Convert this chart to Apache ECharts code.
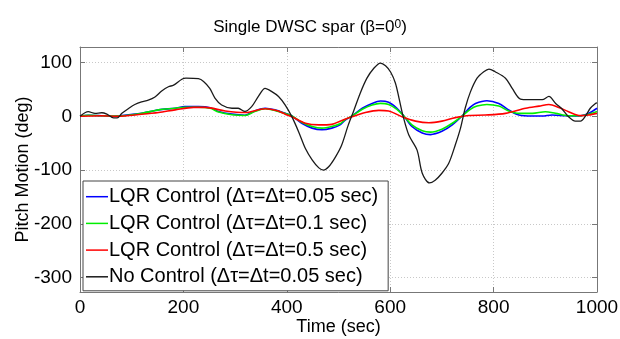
<!DOCTYPE html>
<html>
<head>
<meta charset="utf-8">
<script src="https://cdn.jsdelivr.net/npm/echarts@6/dist/echarts.min.js"></script>
<style>html,body{margin:0;padding:0;background:#fff}#c{width:620px;height:339px}</style>
</head>
<body>
<div id="c"></div>
<script>
var seriesNames = [
  'LQR Control (\u0394\u03c4=\u0394t=0.05 sec)',
  'LQR Control (\u0394\u03c4=\u0394t=0.1 sec)',
  'LQR Control (\u0394\u03c4=\u0394t=0.5 sec)',
  'No Control (\u0394\u03c4=\u0394t=0.05 sec)'
];
var xTicks = [0, 200, 400, 600, 800, 1000];
var yTicks = [-300, -200, -100, 0, 100];

var blueT = [0,16,42,60,72,119,152,184,203,229,252,268,294,319,338,358,377,397,410,429,449,468,487,503,513,526,546,565,581,597,613,626,642,662,678,700,720,739,755,765,787,810,829,849,875,894,913,939,965,984,1000];
var blueV = [0,2,1,0,0.5,5.5,12,15,18,18,16,9,4,2,10,15,12,5.5,0.5,-13,-22,-25,-22,-16,-7,0.5,15,24,28.5,26,15,1,-19,-31,-34,-28,-16,0.5,17,24,29,24,12,2.4,0.5,0.5,2.4,1,0.5,5.5,15];

var greenT = [0,16,42,72,119,152,184,203,229,252,268,294,319,338,358,377,397,410,429,449,468,487,503,513,526,546,565,581,597,613,626,642,662,678,700,720,739,755,768,787,810,829,849,875,900,920,945,965,984,1000];
var greenV = [0,2,1,0.5,5.5,12,15,17,17,15,8,3,1.5,9,14,11,5,0.5,-11,-19,-22,-19,-14,-6,0.5,13,21,24,22,13,1,-16,-27,-29.5,-24,-13,0.5,13,19,22,19,10,5.5,5.5,8.6,5.5,1,1,4,9];

var redT = [0,40,72,119,152,184,220,242,281,319,358,380,397,410,436,462,487,503,526,552,578,597,623,649,675,700,726,752,784,823,862,888,907,926,945,968,984,1000];
var redV = [0,1,0,3.7,7,12,16.6,16.6,10,7,14,11,4,-1,-13,-16,-15,-9,-1,7,11,10,-1,-9,-12,-9,-2.5,1.5,2.4,5.5,15,19,22,16.6,8.6,1.2,2.4,5.5];

var blackT = [0,16,29,42,52,65,72,81,94,106,119,132,145,158,171,181,197,205,229,239,251,261,274,294,306,319,332,345,358,371,384,397,410,423,436,449,462,471,481,494,506,519,529,542,555,568,581,591,601,610,617,625,636,652,662,676,687,700,713,726,736,745,755,768,781,791,803,823,836,852,868,894,907,920,932,945,958,968,978,987,997,1000];
var blackV = [0,8.6,5.5,6.6,4,-3,-3,5.5,14.6,22,27,30,36,47,55,58,69,71,70,65,52,34,21,15,15,9,18,37,52,46,37,21,-1,-29,-60,-81,-96,-100,-94,-76,-54,-16,9,43,71,89,99,94,82,62,34,0,-35,-63,-106,-124,-119,-106,-88,-53,-22,15,45,71,83,88,83,71,52,32,31,31,37,24,14,-1,-9,-9,1,15,24,25];

function pairs(t, v) { return t.map(function (x, i) { return [x, v[i]]; }); }

var colors = ['#0000ff', '#00ee00', '#ff0000', '#1a1a1a'];
var data = [pairs(blueT, blueV), pairs(greenT, greenV), pairs(redT, redV), pairs(blackT, blackV)];
var widths = [1.6, 1.6, 1.6, 1.3];
var zs = [3, 4, 5, 6];

var chart = echarts.init(document.getElementById('c'), null, {renderer: 'canvas'});
var font = 'Liberation Sans, Arial, sans-serif';
var axisColor = '#777';
var splitStyle = {show: true, lineStyle: {color: '#c8c8c8', type: [1, 2], width: 1}};

var series = data.map(function (d, i) {
  return {
    name: seriesNames[i], type: 'line', data: d, showSymbol: false, symbol: 'none',
    smooth: 0.3, z: zs[i],
    lineStyle: {color: colors[i], width: widths[i]}, itemStyle: {color: colors[i]},
    animation: false
  };
});

chart.setOption({
  animation: false,
  title: {
    text: 'Single DWSC spar (\u03b2=0{sup|0})',
    left: 'center', top: 14,
    textStyle: {fontFamily: font, fontSize: 17, fontWeight: 'normal', color: '#000',
      rich: {sup: {fontFamily: font, fontSize: 12, verticalAlign: 'top', lineHeight: 12, color: '#000'}}}
  },
  grid: {left: 80, right: 23, top: 47, bottom: 47, show: false, containLabel: false, outerBoundsMode: 'none'},
  legend: {
    orient: 'vertical', left: 83, top: 181,
    data: seriesNames,
    icon: 'rect', itemWidth: 22, itemHeight: 1.5, itemGap: 6.7,
    backgroundColor: '#fff', borderColor: '#444', borderWidth: 1,
    padding: [5.7, 10, 4, 3],
    textStyle: {fontFamily: font, fontSize: 20, lineHeight: 20, color: '#000', padding: [0, 0, 0, -4]},
    z: 20
  },
  xAxis: [{
    type: 'value', min: 0, max: 1000, interval: 200,
    name: 'Time (sec)', nameLocation: 'middle', nameGap: 26, nameMoveOverlap: false,
    nameTextStyle: {fontFamily: font, fontSize: 18, color: '#000'},
    axisLine: {show: true, onZero: false, lineStyle: {color: axisColor}},
    axisTick: {show: true, inside: true, length: 5, lineStyle: {color: axisColor}},
    axisLabel: {fontFamily: font, fontSize: 19, color: '#000', margin: 6, formatter: function (v) { return String(v); }},
    splitLine: splitStyle
  }, {
    type: 'value', min: 0, max: 1000, interval: 200, position: 'top',
    axisLine: {show: true, onZero: false, lineStyle: {color: axisColor}},
    axisTick: {show: true, inside: true, length: 5, lineStyle: {color: axisColor}},
    axisLabel: {show: false}, splitLine: {show: false}
  }],
  yAxis: [{
    type: 'value', min: -327, max: 129, splitNumber: 5,
    name: 'Pitch Motion (deg)', nameLocation: 'middle', nameGap: 48, nameMoveOverlap: false,
    nameTextStyle: {fontFamily: font, fontSize: 18, color: '#000'},
    axisLine: {show: true, onZero: false, lineStyle: {color: axisColor}},
    axisTick: {show: true, inside: true, length: 5, lineStyle: {color: axisColor}},
    axisLabel: {fontFamily: font, fontSize: 19, color: '#000', margin: 8, showMinLabel: false, showMaxLabel: false},
    splitLine: splitStyle
  }, {
    type: 'value', min: -327, max: 129, splitNumber: 5, position: 'right',
    axisLine: {show: true, onZero: false, lineStyle: {color: axisColor}},
    axisTick: {show: true, inside: true, length: 5, lineStyle: {color: axisColor}},
    axisLabel: {show: false}, splitLine: {show: false}
  }],
  series: series
});
</script>
</body>
</html>
